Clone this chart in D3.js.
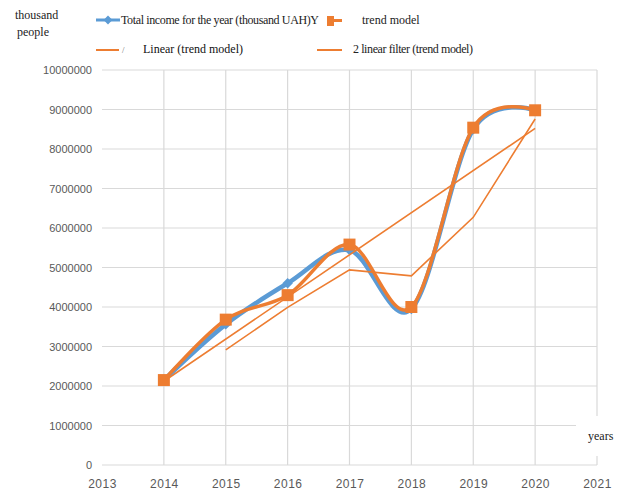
<!DOCTYPE html>
<html>
<head>
<meta charset="utf-8">
<script src="https://cdn.jsdelivr.net/npm/d3@7"></script>
<style>
  body { margin: 0; background: #fff; }
  svg { display: block; }
</style>
</head>
<body>
<div id="chart"></div>
<script>
// chart values
var years = [2014, 2015, 2016, 2017, 2018, 2019, 2020];
var totalIncome = [2150000, 3560000, 4600000, 5440000, 3950000, 8500000, 8980000];
var trendModel = [2150000, 3680000, 4300000, 5580000, 4000000, 8540000, 8980000];
var linearYears = [2014, 2020];
var linearTrend = [2120000, 8520000];
var filterYears = [2015, 2016, 2017, 2018, 2019, 2020];
var filterValues = [2915000, 3990000, 4940000, 4790000, 6270000, 8760000];
var xTicks = [2013, 2014, 2015, 2016, 2017, 2018, 2019, 2020, 2021];
var yTicks = [0, 1000000, 2000000, 3000000, 4000000, 5000000, 6000000, 7000000, 8000000, 9000000, 10000000];

var width = 623, height = 493;
var plot = { left: 102, right: 597, top: 70, bottom: 465 };

var svg = d3.select("#chart").append("svg")
  .attr("width", width)
  .attr("height", height);

var x = d3.scaleLinear().domain([2013, 2021]).range([plot.left, plot.right]);
var y = d3.scaleLinear().domain([0, 10000000]).range([plot.bottom, plot.top]);

/** Grid **/
svg.append("g").selectAll("line.h")
  .data(yTicks)
  .enter().append("line")
  .attr("x1", plot.left).attr("x2", plot.right)
  .attr("y1", d => y(d)).attr("y2", d => y(d))
  .style("stroke", "#d9d9d9").style("stroke-width", 1.2);

svg.append("g").selectAll("line.v")
  .data(xTicks.slice(1))
  .enter().append("line")
  .attr("x1", d => x(d)).attr("x2", d => x(d))
  .attr("y1", plot.top).attr("y2", plot.bottom)
  .style("stroke", "#d9d9d9").style("stroke-width", 1.2);

/** Axes (labels only, Excel style) **/
var yAxis = d3.axisLeft(y).tickValues(yTicks).tickSize(0).tickPadding(10).tickFormat(d3.format("d"));
var gy = svg.append("g").attr("transform", "translate(" + plot.left + ",0)").call(yAxis);
gy.select(".domain").remove();
gy.selectAll("text")
  .style("font-family", "'Liberation Sans', Arial, sans-serif")
  .style("font-size", "11px")
  .style("fill", "#595959");

var xAxis = d3.axisBottom(x).tickValues(xTicks).tickSize(0).tickPadding(14).tickFormat(d3.format("d"));
var gx = svg.append("g").attr("transform", "translate(0," + plot.bottom + ")").call(xAxis);
gx.select(".domain").remove();
gx.selectAll("text")
  .style("font-family", "'Liberation Sans', Arial, sans-serif")
  .style("font-size", "12px")
  .style("letter-spacing", "0.5px")
  .style("fill", "#595959");

/** Series **/
var smooth = d3.line()
  .x(d => x(d[0]))
  .y(d => y(d[1]))
  .curve(d3.curveCardinal.tension(0));
var straight = d3.line()
  .x(d => x(d[0]))
  .y(d => y(d[1]));

var blueData = years.map((yr, i) => [yr, totalIncome[i]]);
var orangeData = years.map((yr, i) => [yr, trendModel[i]]);
var linearData = linearYears.map((yr, i) => [yr, linearTrend[i]]);
var filterData = filterYears.map((yr, i) => [yr, filterValues[i]]);

svg.append("path")
  .attr("d", smooth(blueData))
  .style("fill", "none").style("stroke", "#5b9bd5").style("stroke-width", 4.5);

svg.selectAll(".diamond")
  .data(blueData)
  .enter().append("path")
  .attr("class", "diamond")
  .attr("transform", d => "translate(" + x(d[0]) + "," + y(d[1]) + ")")
  .attr("d", d3.symbol().type(d3.symbolDiamond2).size(70))
  .style("fill", "#5b9bd5");

svg.append("path")
  .attr("d", smooth(orangeData))
  .style("fill", "none").style("stroke", "#ed7d31").style("stroke-width", 3.5);

svg.selectAll(".square")
  .data(orangeData)
  .enter().append("rect")
  .attr("class", "square")
  .attr("x", d => x(d[0]) - 6)
  .attr("y", d => y(d[1]) - 6)
  .attr("width", 12).attr("height", 12)
  .style("fill", "#ed7d31");

svg.append("path")
  .attr("d", straight(linearData))
  .style("fill", "none").style("stroke", "#ed7d31").style("stroke-width", 1.6);

svg.append("path")
  .attr("d", straight(filterData))
  .style("fill", "none").style("stroke", "#ed7d31").style("stroke-width", 1.6);

/** Axis titles **/
var serif = "'Liberation Serif', 'Times New Roman', serif";
svg.append("text").attr("x", 15).attr("y", 19).text("thousand")
  .style("font-family", serif).style("font-size", "12px").style("fill", "#222");
svg.append("text").attr("x", 17).attr("y", 36).text("people")
  .style("font-family", serif).style("font-size", "12px").style("fill", "#222");

svg.append("rect").attr("x", 576).attr("y", 416).attr("width", 47).attr("height", 40).style("fill", "#fff");
svg.append("text").attr("x", 588).attr("y", 440).text("years")
  .style("font-family", serif).style("font-size", "12px").style("fill", "#222");

/** Legend **/
var legend = svg.append("g");
legend.append("line").attr("x1", 96).attr("x2", 120).attr("y1", 20).attr("y2", 20)
  .style("stroke", "#5b9bd5").style("stroke-width", 3);
legend.append("path").attr("transform", "translate(108,20)")
  .attr("d", d3.symbol().type(d3.symbolDiamond2).size(50))
  .style("fill", "#5b9bd5");
legend.append("text").attr("x", 121).attr("y", 24).text("Total income for the year (thousand UAH)Y")
  .attr("textLength", 198)
  .style("font-family", serif).style("font-size", "12px").style("fill", "#222");

legend.append("rect").attr("x", 327).attr("y", 16).attr("width", 7).attr("height", 10)
  .style("fill", "#ed7d31");
legend.append("line").attr("x1", 333).attr("x2", 342).attr("y1", 20.5).attr("y2", 20.5)
  .style("stroke", "#ed7d31").style("stroke-width", 3);
legend.append("text").attr("x", 362).attr("y", 24).text("trend model")
  .style("font-family", serif).style("font-size", "12px").style("fill", "#222");

legend.append("line").attr("x1", 96).attr("x2", 119).attr("y1", 50).attr("y2", 50)
  .style("stroke", "#ed7d31").style("stroke-width", 2);
legend.append("text").attr("x", 122).attr("y", 53).text("/")
  .style("font-family", serif).style("font-size", "9px").style("fill", "#777");
legend.append("text").attr("x", 143).attr("y", 53).text("Linear (trend model)")
  .attr("textLength", 100)
  .style("font-family", serif).style("font-size", "12px").style("fill", "#111");

legend.append("line").attr("x1", 317).attr("x2", 342).attr("y1", 50).attr("y2", 50)
  .style("stroke", "#ed7d31").style("stroke-width", 2);
legend.append("text").attr("x", 353).attr("y", 53).text("2 linear filter (trend model)")
  .attr("textLength", 120)
  .style("font-family", serif).style("font-size", "12px").style("fill", "#222");
</script>
</body>
</html>
